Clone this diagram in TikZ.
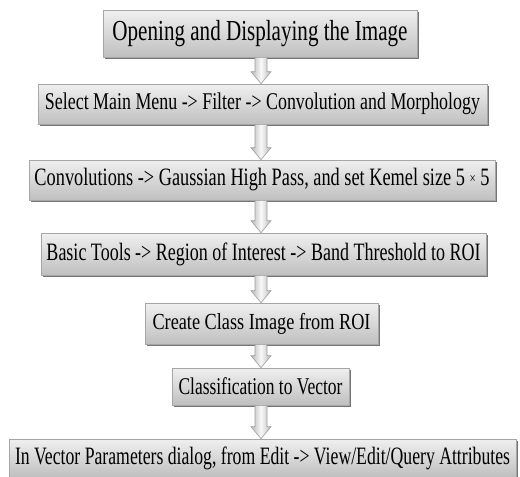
\documentclass[tikz,border=0pt]{standalone}
\usepackage{fontspec}
\setmainfont{Liberation Serif}
\usetikzlibrary{shadows,calc}
\tikzset{
  stepbox/.style={draw=gray!70, line width=0.6pt, top color=gray!12, bottom color=gray!50,
    inner sep=0pt, drop shadow={shadow xshift=1.5pt, shadow yshift=-1.8pt, fill=black!60, opacity=0.9}},
  flowarrow/.style={draw=gray!75, line width=0.6pt, left color=gray!55, right color=gray!55, middle color=gray!5},
}
\newcommand\fitline[3]{\resizebox{#1}{\height}{\fontsize{#2}{#2}\selectfont #3}}
\newcommand\linkarrow[2]{%
  \draw[flowarrow] let \p1=(#1.south -| ax), \p2=(#2.north -| ax) in
    (\x1-6pt,\y1) -- (\x1+6pt,\y1) -- (\x1+6pt,\y2+12pt) -- (\x1+10pt,\y2+12pt) -- (\x1,\y2)
    -- (\x1-10pt,\y2+12pt) -- (\x1-6pt,\y2+12pt) -- cycle;}
\begin{document}
\begin{tikzpicture}[x=1pt,y=-1pt]
\useasboundingbox (0,0) rectangle (520,477);
\coordinate (ax) at (261,0);
\node[stepbox, minimum width=314pt, minimum height=47pt] (b1) at (260,33.5)
  {\fitline{295pt}{29}{Opening and Displaying the Image}};
\node[stepbox, minimum width=449pt, minimum height=40pt] (b2) at (262.5,104)
  {\fitline{435pt}{24}{Select Main Menu -> Filter -> Convolution and Morphology}};
\node[stepbox, minimum width=466pt, minimum height=40pt] (b3) at (262,180)
  {\fitline{455pt}{25}{Convolutions -> Gaussian High Pass, and set Kemel size 5 {\fontsize{15}{15}\selectfont\raisebox{2pt}{×}} 5}};
\node[stepbox, minimum width=445pt, minimum height=42pt] (b4) at (263.5,254)
  {\fitline{434pt}{25}{Basic Tools -> Region of Interest -> Band Threshold to ROI}};
\node[stepbox, minimum width=233pt, minimum height=41pt] (b5) at (261.5,323.5)
  {\fitline{218pt}{23}{Create Class Image from ROI}};
\node[stepbox, minimum width=177pt, minimum height=37pt] (b6) at (260.5,386.5)
  {\fitline{164pt}{24}{Classification to Vector}};
\node[stepbox, minimum width=507pt, minimum height=38pt] (b7) at (262.5,458)
  {\fitline{495pt}{25}{In Vector Parameters dialog, from Edit -> View/Edit/Query Attributes}};
\linkarrow{b1}{b2}
\linkarrow{b2}{b3}
\linkarrow{b3}{b4}
\linkarrow{b4}{b5}
\linkarrow{b5}{b6}
\linkarrow{b6}{b7}
\end{tikzpicture}
\end{document}
